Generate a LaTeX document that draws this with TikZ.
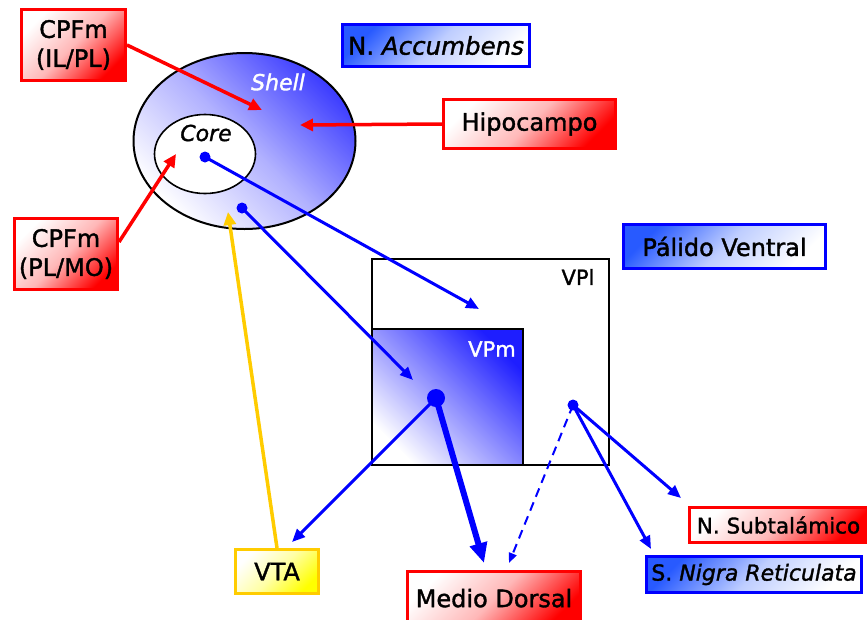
\documentclass[tikz,border=0pt]{standalone}
\usepackage{fontspec}
\setmainfont{DejaVu Sans}[UprightFeatures={FakeBold=1.5},ItalicFeatures={FakeBold=1.5}]
\usetikzlibrary{shapes.geometric,arrows.meta,calc}

\definecolor{lred}{RGB}{255,0,0}
\definecolor{lblue}{RGB}{0,0,255}
\definecolor{boxblue}{RGB}{40,90,255}
\definecolor{shellblue}{RGB}{60,60,255}
\definecolor{vpmblue}{RGB}{30,30,255}
\definecolor{lyellow}{RGB}{255,204,0}
\definecolor{fyellow}{RGB}{255,255,0}

\tikzset{
  labelbox/.style={line width=3pt, inner sep=0pt, align=center,
    font=\fontsize{24}{29}\selectfont},
  redbox/.style={labelbox, draw=lred, top color=white, bottom color=lred,
    middle color=lred!28!white, shading angle=45},
  bluebox/.style={labelbox, draw=lblue, top color=boxblue, bottom color=white,
    middle color=boxblue!30!white, shading angle=45},
  yellowbox/.style={labelbox, draw=lyellow, top color=white, bottom color=fyellow,
    middle color=fyellow!35!white, shading angle=45},
  dot/.style={circle, fill=lblue, inner sep=0pt, minimum size=#1},
  redarrow/.style={draw=lred, line width=3.5pt, -{Triangle[length=13pt,width=12pt]}},
  bluearrow/.style={draw=lblue, line width=3pt, -{Triangle[length=13pt,width=11pt]}},
  yellowarrow/.style={draw=lyellow, line width=3.5pt, -{Triangle[length=13pt,width=12pt]}},
  heavyarrow/.style={draw=lblue, line width=6pt, -{Triangle[length=20pt,width=17pt]}},
  dashedarrow/.style={draw=lblue, line width=2pt, dash pattern=on 9pt off 6pt,
    -{Triangle[length=10pt,width=8pt]}},
  region/.style={draw=black, line width=2pt, inner sep=0pt},
}

\begin{document}
\begin{tikzpicture}[x=1pt,y=-1pt]
\useasboundingbox (0,0) rectangle (867,619);

% Nucleus accumbens: shell with the core inside
\node[ellipse, region, minimum width=222, minimum height=176,
      top color=shellblue, bottom color=white, middle color=shellblue!40!white,
      shading angle=-45] (shell) at (244.5,141) {};
\node[ellipse, region, line width=1.6pt, fill=white, minimum width=101, minimum height=79] (core) at (205,154) {};
\node[text=white, font=\itshape\fontsize{22}{24}\selectfont] (shelltxt) at (278,82) {Shell};
\node[font=\itshape\fontsize{22}{24}\selectfont] (coretxt) at (206,133) {Core};

% Ventral pallidum: lateral and medial parts
\node[region, fill=white, minimum width=237, minimum height=206] (vpl) at (490.5,362) {};
\node[region, top color=vpmblue, bottom color=white, shading angle=-45,
      minimum width=151, minimum height=136] (vpm) at (447.5,397) {};
\node[font=\fontsize{21}{24}\selectfont] (vpltxt) at (578,277) {VPl};
\node[text=white, font=\fontsize{21}{24}\selectfont] (vpmtxt) at (492,349) {VPm};

% Labelled boxes
\node[redbox, minimum width=104, minimum height=71] (cpfa) at (73.5,45) {CPFm\\(IL/PL)};
\node[redbox, minimum width=103, minimum height=71] (cpfb) at (66,254) {CPFm\\(PL/MO)};
\node[bluebox, minimum width=187, minimum height=42, font=\fontsize{24.5}{29}\selectfont] (nacc) at (436,45.5) {N. \textit{Accumbens}};
\node[redbox, minimum width=172, minimum height=49] (hipo) at (529.5,124) {Hipocampo};
\node[bluebox, minimum width=202, minimum height=44] (pv) at (724.5,246.5) {Pálido Ventral};
\node[yellowbox, minimum width=83, minimum height=44] (vta) at (277,571.5) {VTA};
\node[redbox, minimum width=173, minimum height=55] (md) at (494,599) {\raisebox{2pt}{Medio Dorsal}};
\node[redbox, minimum width=178, minimum height=35, font=\fontsize{21.5}{24}\selectfont] (stn) at (778.5,525) {N. Subtalámico};
\node[bluebox, minimum width=215, minimum height=36, font=\fontsize{22}{24}\selectfont] (snr) at (754,574.5) {S. \textit{Nigra Reticulata}};

% Cell bodies
\node[dot=11] (dcore) at (205,157) {};
\node[dot=11] (dshell) at (242,208) {};
\node[dot=18] (dvpm) at (436,398) {};
\node[dot=11] (dvpl) at (573,405) {};

% Arrow end points
\coordinate (tcpfa) at (262,110);
\coordinate (thipo) at (300,125);
\coordinate (tcpfb) at (176,154);
\coordinate (tvtain) at (228,212);
\coordinate (tvpl) at (479,309);
\coordinate (tvpm) at (413,380);
\coordinate (tvta) at (292,542);
\coordinate (tmd) at (484,563);
\coordinate (tmdd) at (509,563);
\coordinate (tstn) at (681,498);
\coordinate (tsnr) at (651,549);
\coordinate (scpfb) at ($(cpfb.east)+(0,-12)$);

% Afferents
\draw[redarrow] (cpfa.east) -- (tcpfa);
\draw[redarrow] (hipo.west) -- (thipo);
\draw[redarrow] (scpfb) -- (tcpfb);
\draw[yellowarrow] (vta.north) -- (tvtain);

% Projections
\draw[bluearrow] (dcore.center) -- (tvpl);
\draw[bluearrow] (dshell.center) -- (tvpm);
\draw[bluearrow] (dvpm.center) -- (tvta);
\draw[heavyarrow] (dvpm.center) -- (tmd);
\draw[dashedarrow] (dvpl.center) -- (tmdd);
\draw[bluearrow] (dvpl.center) -- (tstn);
\draw[bluearrow] (dvpl.center) -- (tsnr);
\end{tikzpicture}
\end{document}
